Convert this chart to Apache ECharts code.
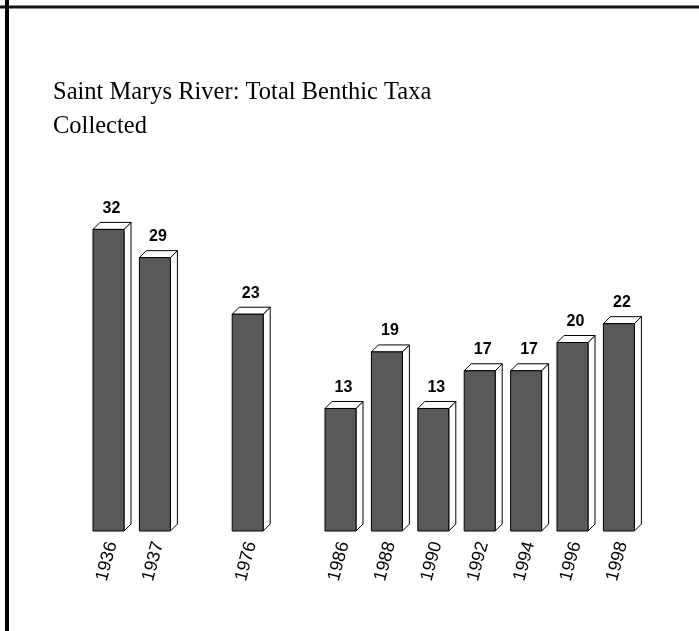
<!DOCTYPE html>
<html>
<head>
<meta charset="utf-8">
<script src="https://cdn.jsdelivr.net/npm/echarts@6/dist/echarts.min.js"></script>
<style>
html,body{margin:0;padding:0;background:#fff;}
#chart{width:699px;height:631px;}
</style>
</head>
<body>
<div id="chart"></div>
<script>
const categories = ['1936', '1937', '', '1976', '', '1986', '1988', '1990', '1992', '1994', '1996', '1998'];
const taxaValues = [32, 29, null, 23, null, 13, 19, 13, 17, 17, 20, 22];
const titleText = 'Saint Marys River: Total Benthic Taxa\nCollected';

const chart = echarts.init(document.getElementById('chart'), null, {renderer: 'canvas'});
const FRONT_W = 31, DEPTH = 7;

const seriesData = categories.map((c, i) => [i, taxaValues[i]]).filter(d => d[1] != null);

chart.setOption({
  animation: false,
  backgroundColor: '#fff',
  title: {
    text: titleText,
    left: 48, top: 71,
    textStyle: {fontFamily: 'Liberation Serif', fontWeight: 'normal', fontSize: 24.5, color: '#000', lineHeight: 34}
  },
  graphic: [
    {type: 'line', shape: {x1: 7, y1: 0, x2: 7, y2: 631}, style: {stroke: '#000', lineWidth: 4}},
    {type: 'line', shape: {x1: 0, y1: 7, x2: 699, y2: 7}, style: {stroke: '#111', lineWidth: 3}}
  ],
  grid: {left: 88.8, right: 53.4, top: 154, bottom: 100},
  xAxis: {
    type: 'category', data: categories,
    axisLine: {show: false}, axisTick: {show: false},
    axisLabel: {rotate: 75, margin: 11, fontFamily: 'Liberation Sans', fontSize: 18, color: '#000', interval: 0}
  },
  yAxis: {type: 'value', min: 0, max: 40, show: false, splitLine: {show: false}},
  series: [{
    type: 'custom',
    data: seriesData,
    encode: {x: 0, y: 1},
    renderItem: function (params, api) {
      const idx = api.value(0), v = api.value(1);
      const top = api.coord([idx, v]);
      const base = api.coord([idx, 0]);
      const x0 = top[0] - 19, x1 = x0 + FRONT_W;
      const yt = top[1], yb = base[1];
      const stroke = {stroke: '#000', lineWidth: 1};
      return {
        type: 'group',
        children: [
          {type: 'polygon', shape: {points: [[x1, yt], [x1 + DEPTH, yt - DEPTH], [x1 + DEPTH, yb - DEPTH], [x1, yb]]},
            style: Object.assign({fill: '#fff'}, stroke)},
          {type: 'polygon', shape: {points: [[x0, yt], [x0 + DEPTH, yt - DEPTH], [x1 + DEPTH, yt - DEPTH], [x1, yt]]},
            style: Object.assign({fill: '#fff'}, stroke)},
          {type: 'rect', shape: {x: x0, y: yt, width: FRONT_W, height: yb - yt},
            style: Object.assign({fill: '#595959'}, stroke)},
          {type: 'text', style: {text: String(v), x: x0 + FRONT_W / 2 + 3, y: yt - DEPTH - 6,
            align: 'center', verticalAlign: 'bottom', fontFamily: 'Liberation Sans', fontWeight: 'bold', fontSize: 16, fill: '#000'}}
        ]
      };
    }
  }]
});
</script>
</body>
</html>
